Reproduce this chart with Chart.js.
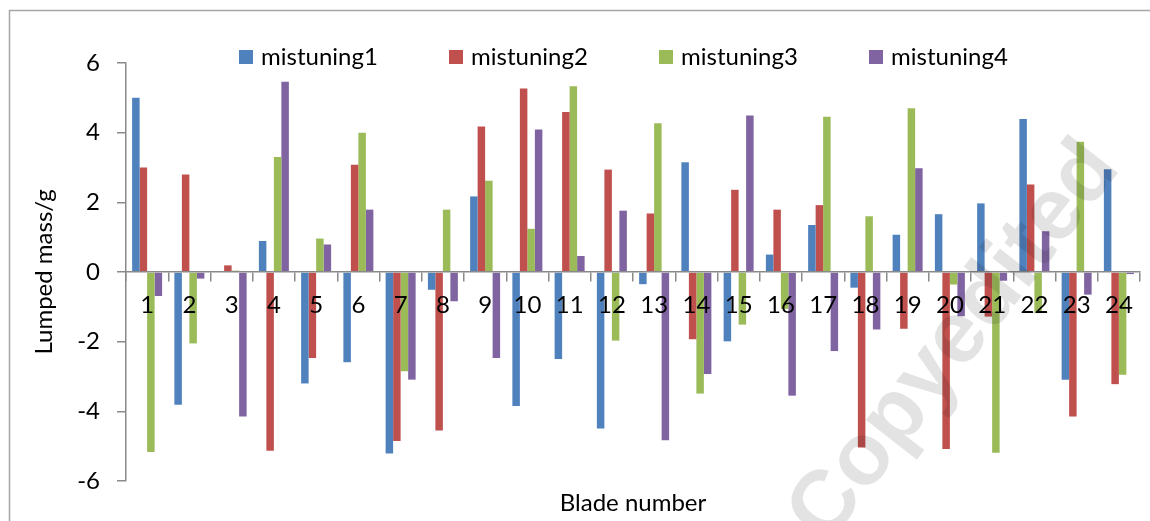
<!DOCTYPE html>
<html>
<head>
<meta charset="utf-8">
<title>Lumped mass mistuning by blade</title>
<script src="https://cdn.jsdelivr.net/npm/chart.js@4.4.1/dist/chart.umd.min.js"></script>
<style>
  html, body { margin: 0; padding: 0; background: #ffffff; }
  #wrap { width: 1150px; height: 521px; position: relative; }
  canvas { display: block; }
</style>
</head>
<body>
<div id="wrap"><canvas id="chart" width="1150" height="521"></canvas></div>
<script>
// Blade numbers along the x axis
const blades = ['1','2','3','4','5','6','7','8','9','10','11','12',
                '13','14','15','16','17','18','19','20','21','22','23','24'];

// Lumped mass added to each blade (g), one array per mistuning pattern
const mistuning1 = [5.00, -3.81, 0.00, 0.89, -3.20, -2.59, -5.21, -0.51, 2.17, -3.85, -2.50, -4.49,
                    -0.35, 3.15, -1.99, 0.50, 1.35, -0.45, 1.07, 1.66, 1.97, 4.39, -3.09, 2.95];
const mistuning2 = [3.00, 2.80, 0.19, -5.13, -2.47, 3.08, -4.85, -4.55, 4.18, 5.27, 4.59, 2.94,
                    1.68, -1.93, 2.36, 1.79, 1.92, -5.04, -1.63, -5.08, -1.28, 2.51, -4.15, -3.22];
const mistuning3 = [-5.17, -2.05, 0.04, 3.30, 0.96, 4.00, -2.85, 1.79, 2.62, 1.24, 5.33, -1.97,
                    4.27, -3.49, -1.51, -1.06, 4.46, 1.60, 4.70, -0.36, -5.19, -1.18, 3.74, -2.95];
const mistuning4 = [-0.69, -0.19, -4.15, 5.46, 0.79, 1.79, -3.09, -0.84, -2.47, 4.09, 0.46, 1.76,
                    -4.83, -2.93, 4.49, -3.55, -2.27, -1.65, 2.98, -1.27, -0.25, 1.17, -0.65, -0.06];

const seriesNames = ['mistuning1', 'mistuning2', 'mistuning3', 'mistuning4'];
const seriesColors = ['#4F81BD', '#C0504D', '#9BBB59', '#8064A2'];

// Y axis range and step
const yMin = -6, yMax = 6, yStep = 2;

const FONT = 'Lato, "Open Sans", "DejaVu Sans", sans-serif';
const AXIS_GRAY = '#8a8a8a';

// White page, plus the left/top frame of the figure
const framePlugin = {
  id: 'frame',
  beforeDraw(chart) {
    const ctx = chart.ctx;
    ctx.save();
    ctx.fillStyle = '#ffffff';
    ctx.fillRect(0, 0, chart.width, chart.height);
    ctx.strokeStyle = '#a6a6a6';
    ctx.lineWidth = 1.5;
    ctx.beginPath();
    ctx.moveTo(9.5, chart.height);
    ctx.lineTo(9.5, 10.5);
    ctx.lineTo(chart.width, 10.5);
    ctx.stroke();
    ctx.restore();
  }
};

// Legend row across the top and the x axis title at the bottom
const legendTitlePlugin = {
  id: 'legendTitle',
  afterDraw(chart) {
    const ctx = chart.ctx;
    ctx.save();
    ctx.font = '24px ' + FONT;
    ctx.textBaseline = 'middle';
    ctx.textAlign = 'left';
    chart.data.datasets.forEach((ds, i) => {
      const x = 239 + i * 210;
      ctx.fillStyle = ds.backgroundColor;
      ctx.fillRect(x, 50, 14, 14);
      ctx.fillStyle = '#000000';
      ctx.fillText(ds.label, x + 22, 57);
    });
    const area = chart.chartArea;
    ctx.textAlign = 'center';
    ctx.fillText('Blade number', (area.left + area.right) / 2, 503);
    ctx.restore();
  }
};

// Diagonal "Copyedited" stamp across the lower right
const stampPlugin = {
  id: 'stamp',
  afterDraw(chart) {
    const ctx = chart.ctx;
    ctx.save();
    ctx.translate(955, 342);
    ctx.rotate(-52 * Math.PI / 180);
    ctx.font = 'bold 88px "Liberation Sans", Arial, sans-serif';
    ctx.textAlign = 'center';
    ctx.textBaseline = 'middle';
    ctx.fillStyle = 'rgba(0, 0, 0, 0.11)';
    ctx.fillText('Copyedited', 0, 0);
    ctx.restore();
  }
};

const datasets = [mistuning1, mistuning2, mistuning3, mistuning4].map((vals, i) => ({
  label: seriesNames[i],
  data: vals,
  backgroundColor: seriesColors[i],
  borderWidth: 0,
  categoryPercentage: 0.71,
  barPercentage: 1.0
}));

new Chart(document.getElementById('chart'), {
  type: 'bar',
  data: { labels: blades, datasets },
  options: {
    responsive: false,
    animation: false,
    devicePixelRatio: 1,
    layout: { padding: { left: 0, right: 10, top: 63, bottom: 40 } },
    plugins: {
      legend: { display: false },
      tooltip: { enabled: false }
    },
    scales: {
      x: {
        type: 'category',
        position: { y: 0 },
        offset: true,
        grid: {
          display: true,
          offset: true,
          drawOnChartArea: false,
          drawTicks: true,
          tickLength: 9,
          color: AXIS_GRAY,
          lineWidth: 1.5
        },
        border: { display: true, color: AXIS_GRAY, width: 1.5, z: 1 },
        ticks: {
          z: 1,
          autoSkip: false,
          maxRotation: 0,
          padding: 10,
          color: '#000000',
          font: { family: FONT, size: 24 }
        }
      },
      y: {
        min: yMin,
        max: yMax,
        afterFit(scale) { scale.width = 126; },
        grid: {
          display: true,
          drawOnChartArea: false,
          drawTicks: true,
          tickLength: 9,
          color: AXIS_GRAY,
          lineWidth: 1.5
        },
        border: { display: true, color: AXIS_GRAY, width: 1.5 },
        ticks: {
          stepSize: yStep,
          padding: 17,
          color: '#000000',
          font: { family: FONT, size: 24 }
        },
        title: {
          display: true,
          text: 'Lumped mass/g',
          color: '#000000',
          font: { family: FONT, size: 24 },
          padding: { top: 30, bottom: 0 }
        }
      }
    }
  },
  plugins: [framePlugin, legendTitlePlugin, stampPlugin]
});
</script>
</body>
</html>
